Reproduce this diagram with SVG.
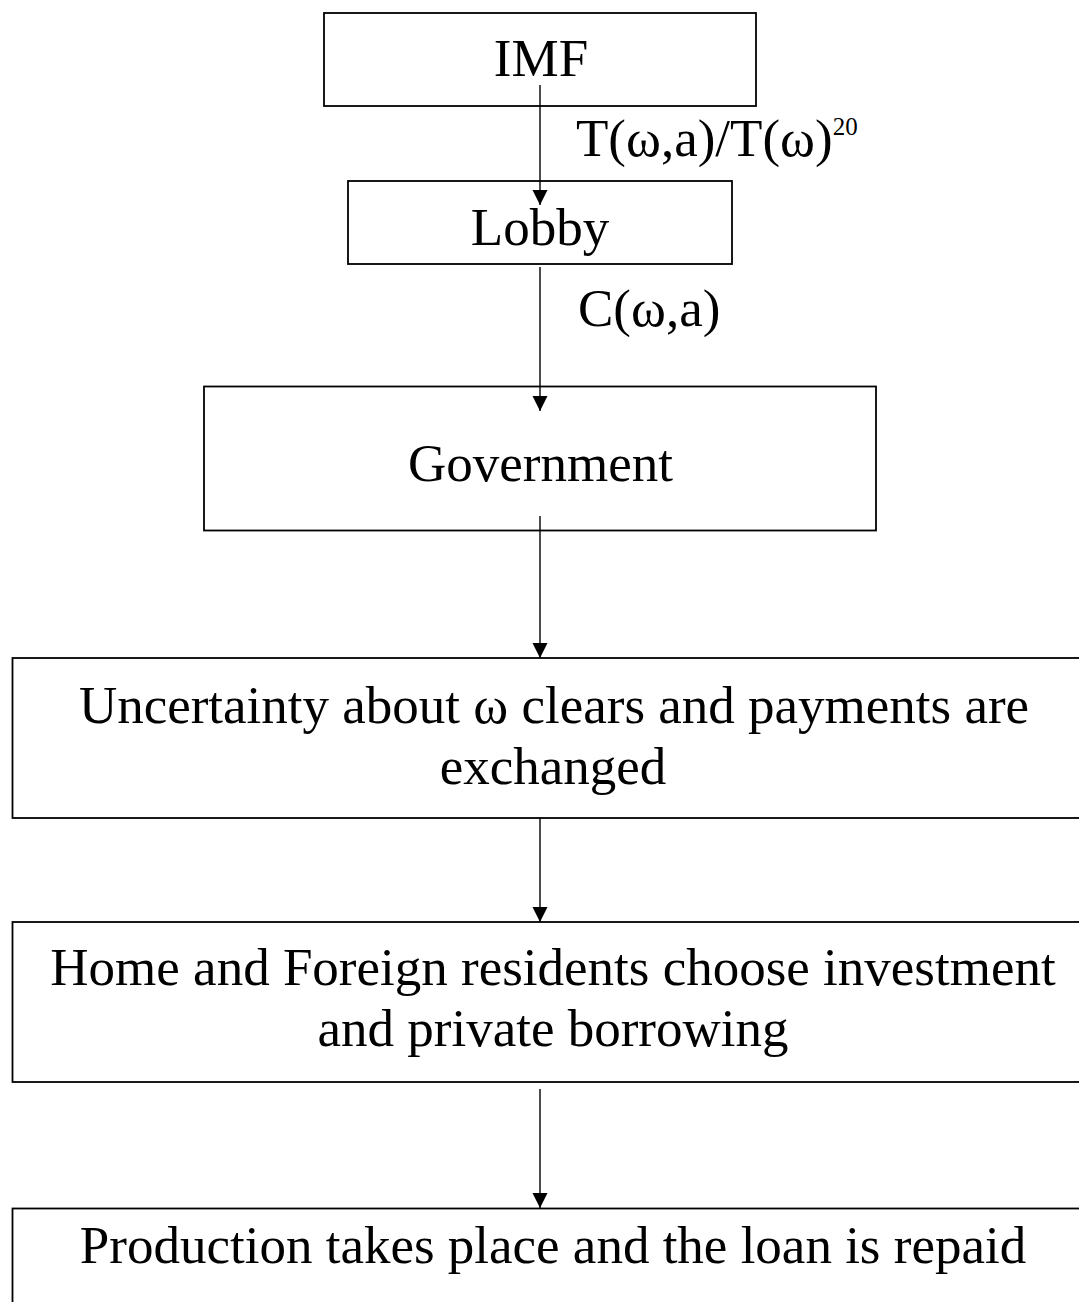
<svg xmlns="http://www.w3.org/2000/svg" width="1079" height="1302" viewBox="0 0 1079 1302">
<style>
.box{fill:#fff;stroke:#000;stroke-width:1.8}
.t{font-family:"Liberation Serif","Times New Roman",serif;font-size:53px;fill:#000}
.c{text-anchor:middle}
.conn{stroke:#000;stroke-width:1.4;fill:none;marker-end:url(#ah)}
</style>
<defs>
<marker id="ah" markerUnits="userSpaceOnUse" markerWidth="16" markerHeight="16" refX="15" refY="7.5" orient="auto">
<path d="M0,0 L15,7.5 L0,15 z" fill="#000"/>
</marker>
</defs>
<rect x="0" y="0" width="1079" height="1302" fill="#fff"/>
<g id="imf"><rect class="box" x="324" y="13" width="432" height="93"/><text class="t c" x="541" y="76">IMF</text></g>
<g id="lobby"><rect class="box" x="348" y="181" width="384" height="83"/><text class="t c" x="540" y="245">Lobby</text></g>
<g id="government"><rect class="box" x="204" y="386.5" width="672" height="144"/><text class="t c" x="540.5" y="481">Government</text></g>
<g id="uncertainty"><rect class="box" x="12.5" y="658" width="1082" height="160"/><text class="t c" x="554" y="723">Uncertainty about ω clears and payments are</text><text class="t c" x="553" y="784">exchanged</text></g>
<g id="residents"><rect class="box" x="12.5" y="922" width="1082" height="160"/><text class="t c" x="553" y="985">Home and Foreign residents choose investment</text><text class="t c" x="553" y="1046">and private borrowing</text></g>
<g id="production"><rect class="box" x="12.5" y="1208.5" width="1082" height="200"/><text class="t c" x="553" y="1263">Production takes place and the loan is repaid</text></g>
<g id="connectors">
<line class="conn" x1="540" y1="85" x2="540" y2="205"/>
<line class="conn" x1="540" y1="267" x2="540" y2="411"/>
<line class="conn" x1="540" y1="516" x2="540" y2="658"/>
<line class="conn" x1="540" y1="818" x2="540" y2="922"/>
<line class="conn" x1="540" y1="1089" x2="540" y2="1208"/>
<text class="t" x="576" y="156">T(ω,a)/T(ω)<tspan font-size="25" dy="-21">20</tspan></text>
<text class="t" x="578" y="326">C(ω,a)</text>
</g>
</svg>
